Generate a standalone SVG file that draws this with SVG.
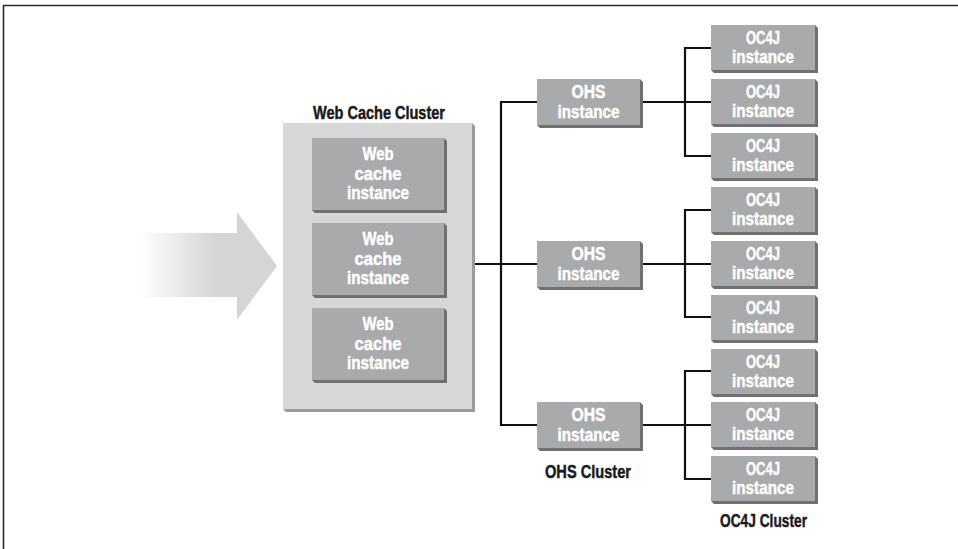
<svg xmlns="http://www.w3.org/2000/svg" width="958" height="549" viewBox="0 0 958 549">
<style>
  .face { fill: #a9aaac; }
  .shadow { fill: #6f7072; }
  .cface { fill: #d6d7d8; }
  .cshadow { fill: #9a9b9d; }
  .t { font-family: "Liberation Sans Narrow", "Liberation Sans", Arial, sans-serif; font-weight: bold; font-size: 18px; fill: #ffffff; stroke: #ffffff; stroke-width: 0.45; text-anchor: middle; }
  .lbl { font-family: "Liberation Sans Narrow", "Liberation Sans", Arial, sans-serif; font-weight: bold; font-size: 18px; fill: #1a1a1a; stroke: #1a1a1a; stroke-width: 0.45; text-anchor: middle; }
  .conn { fill: none; stroke: #111111; stroke-width: 2.2; }
</style>
<defs>
  <linearGradient id="fade" gradientUnits="userSpaceOnUse" x1="140" y1="0" x2="215" y2="0">
    <stop offset="0" stop-color="#ffffff"/>
    <stop offset="1" stop-color="#d4d5d6"/>
  </linearGradient>
</defs>
<rect x="0" y="0" width="958" height="549" fill="#ffffff"/>
<g id="frame" fill="none" stroke="#2a2a2a" stroke-width="1.6">
  <path d="M3.5,549 V5.5 H958"/>
</g>

<g id="arrow">
  <polygon points="140,233 237,233 237,212 277,266 237,320 237,297 140,297" fill="url(#fade)"/>
</g>

<g id="connectors">
  <path class="conn" d="M475,264 H537"/>
  <path class="conn" d="M537,102 H501 V425 H537"/>
  <path class="conn" d="M643,102 H711 M711,48 H685 V156 H711"/>
  <path class="conn" d="M643,264 H711 M711,210 H685 V317 H711"/>
  <path class="conn" d="M643,425 H711 M711,371 H685 V479 H711"/>
</g>

<g id="web-cache-cluster">
  <polygon class="cshadow" points="472,123 475,126 475,412 286,412 283,409 472,409"/>
  <rect class="cface" x="283" y="123" width="189" height="286"/>
  <text class="lbl" x="379" y="119" textLength="132" lengthAdjust="spacingAndGlyphs">Web Cache Cluster</text>
</g>

<g id="webcache-1">
  <polygon class="shadow" points="444,138 447,141 447,213 315,213 312,210 444,210"/>
  <rect class="face" x="312" y="138" width="132" height="72"/>
  <text class="t" x="378" y="160" textLength="31" lengthAdjust="spacingAndGlyphs">Web</text>
  <text class="t" x="378" y="179.5" textLength="47" lengthAdjust="spacingAndGlyphs">cache</text>
  <text class="t" x="378" y="199" textLength="62" lengthAdjust="spacingAndGlyphs">instance</text>
</g>
<g id="webcache-2">
  <polygon class="shadow" points="444,223 447,226 447,298 315,298 312,295 444,295"/>
  <rect class="face" x="312" y="223" width="132" height="72"/>
  <text class="t" x="378" y="245" textLength="31" lengthAdjust="spacingAndGlyphs">Web</text>
  <text class="t" x="378" y="264.5" textLength="47" lengthAdjust="spacingAndGlyphs">cache</text>
  <text class="t" x="378" y="284" textLength="62" lengthAdjust="spacingAndGlyphs">instance</text>
</g>
<g id="webcache-3">
  <polygon class="shadow" points="444,308 447,311 447,383 315,383 312,380 444,380"/>
  <rect class="face" x="312" y="308" width="132" height="72"/>
  <text class="t" x="378" y="330" textLength="31" lengthAdjust="spacingAndGlyphs">Web</text>
  <text class="t" x="378" y="349.5" textLength="47" lengthAdjust="spacingAndGlyphs">cache</text>
  <text class="t" x="378" y="369" textLength="62" lengthAdjust="spacingAndGlyphs">instance</text>
</g>

<g id="ohs-1">
  <polygon class="shadow" points="640,79 643,82 643,128 540,128 537,125 640,125"/>
  <rect class="face" x="537" y="79" width="103" height="46"/>
  <text class="t" x="588.5" y="98" textLength="34" lengthAdjust="spacingAndGlyphs">OHS</text>
  <text class="t" x="588.5" y="117.5" textLength="62" lengthAdjust="spacingAndGlyphs">instance</text>
</g>
<g id="ohs-2">
  <polygon class="shadow" points="640,241 643,244 643,290 540,290 537,287 640,287"/>
  <rect class="face" x="537" y="241" width="103" height="46"/>
  <text class="t" x="588.5" y="260" textLength="34" lengthAdjust="spacingAndGlyphs">OHS</text>
  <text class="t" x="588.5" y="279.5" textLength="62" lengthAdjust="spacingAndGlyphs">instance</text>
</g>
<g id="ohs-3">
  <polygon class="shadow" points="640,402 643,405 643,451 540,451 537,448 640,448"/>
  <rect class="face" x="537" y="402" width="103" height="46"/>
  <text class="t" x="588.5" y="421" textLength="34" lengthAdjust="spacingAndGlyphs">OHS</text>
  <text class="t" x="588.5" y="440.5" textLength="62" lengthAdjust="spacingAndGlyphs">instance</text>
  <text class="lbl" x="588" y="478" textLength="86" lengthAdjust="spacingAndGlyphs">OHS Cluster</text>
</g>

<g id="oc4j-1">
  <polygon class="shadow" points="815,25 818,28 818,73 714,73 711,70 815,70"/>
  <rect class="face" x="711" y="25" width="104" height="45"/>
  <text class="t" x="763" y="43.5" textLength="34" lengthAdjust="spacingAndGlyphs">OC4J</text>
  <text class="t" x="763" y="63" textLength="62" lengthAdjust="spacingAndGlyphs">instance</text>
</g>
<g id="oc4j-2">
  <polygon class="shadow" points="815,79 818,82 818,127 714,127 711,124 815,124"/>
  <rect class="face" x="711" y="79" width="104" height="45"/>
  <text class="t" x="763" y="97.5" textLength="34" lengthAdjust="spacingAndGlyphs">OC4J</text>
  <text class="t" x="763" y="117" textLength="62" lengthAdjust="spacingAndGlyphs">instance</text>
</g>
<g id="oc4j-3">
  <polygon class="shadow" points="815,133 818,136 818,181 714,181 711,178 815,178"/>
  <rect class="face" x="711" y="133" width="104" height="45"/>
  <text class="t" x="763" y="151.5" textLength="34" lengthAdjust="spacingAndGlyphs">OC4J</text>
  <text class="t" x="763" y="171" textLength="62" lengthAdjust="spacingAndGlyphs">instance</text>
</g>
<g id="oc4j-4">
  <polygon class="shadow" points="815,187 818,190 818,235 714,235 711,232 815,232"/>
  <rect class="face" x="711" y="187" width="104" height="45"/>
  <text class="t" x="763" y="205.5" textLength="34" lengthAdjust="spacingAndGlyphs">OC4J</text>
  <text class="t" x="763" y="225" textLength="62" lengthAdjust="spacingAndGlyphs">instance</text>
</g>
<g id="oc4j-5">
  <polygon class="shadow" points="815,241 818,244 818,289 714,289 711,286 815,286"/>
  <rect class="face" x="711" y="241" width="104" height="45"/>
  <text class="t" x="763" y="259.5" textLength="34" lengthAdjust="spacingAndGlyphs">OC4J</text>
  <text class="t" x="763" y="279" textLength="62" lengthAdjust="spacingAndGlyphs">instance</text>
</g>
<g id="oc4j-6">
  <polygon class="shadow" points="815,295 818,298 818,343 714,343 711,340 815,340"/>
  <rect class="face" x="711" y="295" width="104" height="45"/>
  <text class="t" x="763" y="313.5" textLength="34" lengthAdjust="spacingAndGlyphs">OC4J</text>
  <text class="t" x="763" y="333" textLength="62" lengthAdjust="spacingAndGlyphs">instance</text>
</g>
<g id="oc4j-7">
  <polygon class="shadow" points="815,349 818,352 818,397 714,397 711,394 815,394"/>
  <rect class="face" x="711" y="349" width="104" height="45"/>
  <text class="t" x="763" y="367.5" textLength="34" lengthAdjust="spacingAndGlyphs">OC4J</text>
  <text class="t" x="763" y="387" textLength="62" lengthAdjust="spacingAndGlyphs">instance</text>
</g>
<g id="oc4j-8">
  <polygon class="shadow" points="815,402 818,405 818,450 714,450 711,447 815,447"/>
  <rect class="face" x="711" y="402" width="104" height="45"/>
  <text class="t" x="763" y="420.5" textLength="34" lengthAdjust="spacingAndGlyphs">OC4J</text>
  <text class="t" x="763" y="440" textLength="62" lengthAdjust="spacingAndGlyphs">instance</text>
</g>
<g id="oc4j-9">
  <polygon class="shadow" points="815,456 818,459 818,504 714,504 711,501 815,501"/>
  <rect class="face" x="711" y="456" width="104" height="45"/>
  <text class="t" x="763" y="474.5" textLength="34" lengthAdjust="spacingAndGlyphs">OC4J</text>
  <text class="t" x="763" y="494" textLength="62" lengthAdjust="spacingAndGlyphs">instance</text>
  <text class="lbl" x="763.5" y="527" textLength="87" lengthAdjust="spacingAndGlyphs">OC4J Cluster</text>
</g>
</svg>
